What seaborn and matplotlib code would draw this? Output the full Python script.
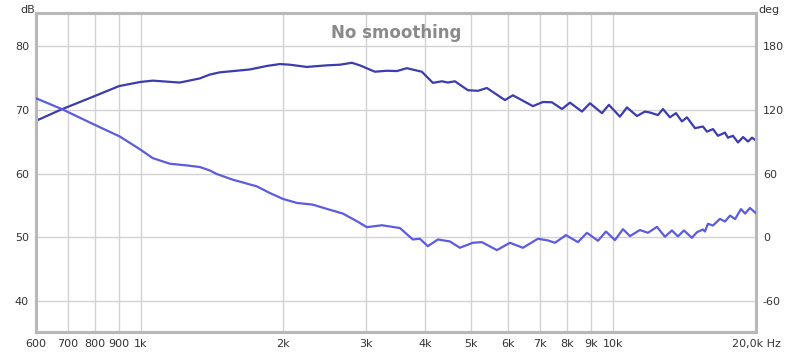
import matplotlib
matplotlib.use("Agg")
import matplotlib.pyplot as plt
import seaborn as sns
import pandas as pd

# Magnitude trace (dB, left axis)
mag_freq = [600, 680, 800, 900, 1000, 1060, 1210, 1334, 1400, 1470, 1702, 1849, 1970,
            2069, 2247, 2478, 2641, 2800, 2911, 3132, 3320, 3486, 3660, 3938, 4156,
            4343, 4472, 4627, 4929, 5176, 5408, 5905, 6140, 6768, 7108, 7427, 7799,
            8109, 8598, 8939, 9478, 9806, 10347, 10708, 11240, 11689, 11979, 12454,
            12761, 13204, 13597, 14000, 14345, 14916, 15510, 15817, 16286, 16689,
            17270, 17522, 17960, 18400, 18860, 19320, 19700, 20090]
mag_db = [68.3, 70.1, 72.2, 73.75, 74.4, 74.6, 74.3, 74.95, 75.55, 75.9, 76.35, 76.9, 77.2,
          77.1, 76.75, 77.0, 77.1, 77.4, 77.0, 76.0, 76.15, 76.1, 76.55, 76.0, 74.25,
          74.5, 74.3, 74.5, 73.1, 73.0, 73.45, 71.55, 72.3, 70.6, 71.25, 71.2, 70.15,
          71.15, 69.75, 71.05, 69.5, 70.8, 68.95, 70.4, 69.05, 69.75, 69.6, 69.2,
          70.15, 68.85, 69.5, 68.2, 68.85, 67.15, 67.4, 66.6, 67.0, 65.95,
          66.45, 65.65, 65.95, 64.9, 65.75, 65.05, 65.65, 65.2]

# Phase trace (deg, right axis)
ph_freq = [600, 680, 800, 903, 1000, 1060, 1152, 1252, 1334, 1400, 1449, 1566, 1761,
           1876, 2000, 2141, 2314, 2478, 2679, 2869, 3012, 3241, 3538, 3769, 3900,
           4055, 4259, 4515, 4740, 5050, 5278, 5679, 6050, 6447, 6936, 7284, 7537,
           7953, 8431, 8808, 9295, 9665, 10098, 10500, 10865, 11407, 11863, 12394,
           12887, 13335, 13730, 14136, 14700, 15066, 15510, 15661, 15893, 16286,
           16850, 17270, 17700, 18140, 18670, 19050, 19510, 20090]
ph_deg = [131.0, 120.9, 105.9, 95.0, 82.5, 74.7, 69.4, 67.8, 66.3, 63.1, 59.7, 54.4, 48.1,
          41.9, 36.3, 32.5, 30.9, 26.9, 22.5, 15.3, 9.7, 11.5, 8.9, -1.9, -1.2,
          -8.2, -1.9, -3.75, -9.7, -5.0, -4.4, -11.9, -5.0, -9.7, -1.2, -2.8, -5.0,
          2.2, -4.4, 4.4, -3.1, 5.6, -2.5, 7.8, 1.3, 7.0, 4.4, 10.0,
          0.7, 6.6, 1.0, 6.6, -0.3, 5.0, 7.5, 5.6, 12.9, 11.25,
          17.5, 15.0, 20.6, 17.3, 26.7, 22.5, 27.8, 22.7]

x_ticks = [600, 700, 800, 900, 1000, 2000, 3000, 4000, 5000, 6000, 7000, 8000, 9000, 10000, 20090]
x_labels = ["600", "700", "800", "900", "1k", "2k", "3k", "4k", "5k", "6k", "7k", "8k", "9k", "10k", "20,0k Hz"]
db_ticks = [40, 50, 60, 70, 80]
deg_ticks = [-60, 0, 60, 120, 180]

mag = pd.DataFrame({"freq": mag_freq, "db": mag_db})
ph = pd.DataFrame({"freq": ph_freq, "deg": ph_deg})

sns.set_style("white")
plt.rcParams['font.family'] = ['DejaVu Sans']
plt.rcParams['axes.unicode_minus'] = False

fig = plt.figure(figsize=(8, 3.53), dpi=100)
ax = fig.add_axes([0.045, 0.06, 0.9, 0.903])
ax2 = ax.twinx()

sns.lineplot(data=mag, x="freq", y="db", ax=ax, color="#3c3cae", linewidth=1.6, zorder=3)
sns.lineplot(data=ph, x="freq", y="deg", ax=ax2, color="#5c5ce0", linewidth=1.6, zorder=3)

ax.set_xscale("log")
ax.set_xlim(600, 20090)
ax.set_ylim(35.2, 85.2)
ax2.set_ylim(-88.8, 211.2)

ax.set_xticks(x_ticks)
ax.set_xticklabels(x_labels)
ax.xaxis.set_minor_locator(matplotlib.ticker.NullLocator())
ax.set_yticks(db_ticks)
ax2.set_yticks(deg_ticks)

for a in (ax, ax2):
    a.tick_params(length=0, labelsize=8, labelcolor="#333333", pad=5)
    a.set_xlabel("")
    a.set_ylabel("")
    for s in a.spines.values():
        s.set_color("#b8b8b8")
        s.set_linewidth(2.2)

ax.grid(True, color="#d2d2d2", linewidth=1)
ax.set_axisbelow(True)
ax2.grid(False)

ax.text(0.5, 0.965, "No smoothing", transform=ax.transAxes, ha="center", va="top",
        fontsize=12, fontweight="bold", color="#8a8a8a")
fig.text(0.026, 0.985, "dB", ha="left", va="top", fontsize=8, color="#333333")
fig.text(0.948, 0.985, "deg", ha="left", va="top", fontsize=8, color="#333333")

fig.savefig("out.png", dpi=100)
